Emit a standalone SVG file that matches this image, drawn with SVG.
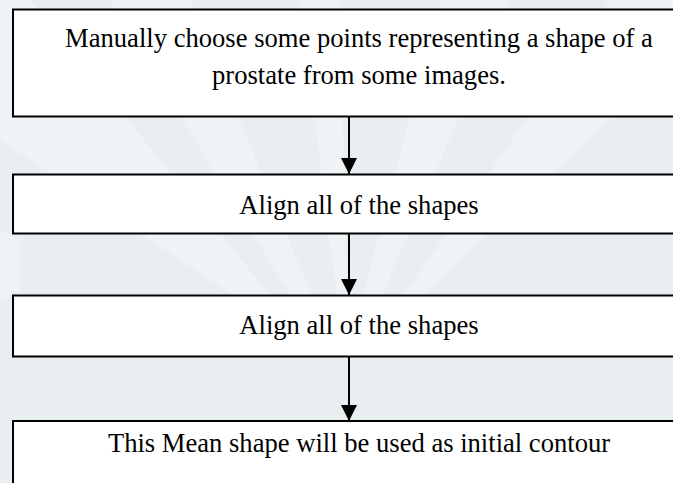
<svg xmlns="http://www.w3.org/2000/svg" width="673" height="483" viewBox="0 0 673 483">
  <defs>
    <style>
      .box { fill: #ffffff; stroke: #000000; stroke-width: 2; }
      .lbl { font-family: "Liberation Serif", "Times New Roman", serif; font-size: 26.6px; fill: #000000; text-anchor: middle; }
      .conn { stroke: #000000; stroke-width: 2; fill: none; }
      .ray { fill: #ffffff; opacity: 0.3; }
    </style>
    <marker id="arrow" viewBox="0 0 16 16" refX="16" refY="8" markerWidth="16" markerHeight="16" markerUnits="userSpaceOnUse" orient="auto">
      <path d="M0,0 L16,8 L0,16 Z" fill="#000000"/>
    </marker>
  </defs>
  <rect x="0" y="0" width="673" height="483" fill="#e9eef1"/>
  <g id="watermark">
    <polygon class="ray" points="110,0 190,0 330,340 320,345"/>
    <polygon class="ray" points="300,0 340,0 348,340 342,340"/>
    <polygon class="ray" points="440,0 510,0 360,345 352,340"/>
    <polygon class="ray" points="610,0 673,0 673,60 365,350"/>
    <polygon class="ray" points="0,0 30,0 315,350 0,140"/>
    <polygon class="ray" points="0,230 20,240 20,290 0,300"/>
  </g>
  <g id="connectors">
    <line class="conn" x1="349" y1="117" x2="349" y2="174" marker-end="url(#arrow)"/>
    <line class="conn" x1="349" y1="234" x2="349" y2="295" marker-end="url(#arrow)"/>
    <line class="conn" x1="349" y1="357" x2="349" y2="421" marker-end="url(#arrow)"/>
  </g>
  <g id="node1">
    <rect class="box" x="13" y="9.5" width="680" height="107"/>
    <text class="lbl" x="359" y="47">Manually choose some points representing a shape of a</text>
    <text class="lbl" x="359" y="84">prostate from some images.</text>
  </g>
  <g id="node2">
    <rect class="box" x="13" y="174.5" width="680" height="59"/>
    <text class="lbl" x="359" y="214">Align all of the shapes</text>
  </g>
  <g id="node3">
    <rect class="box" x="13" y="295.5" width="680" height="61"/>
    <text class="lbl" x="359" y="334">Align all of the shapes</text>
  </g>
  <g id="node4">
    <rect class="box" x="13" y="421" width="680" height="80"/>
    <text class="lbl" x="359" y="452">This Mean shape will be used as initial contour</text>
  </g>
</svg>
